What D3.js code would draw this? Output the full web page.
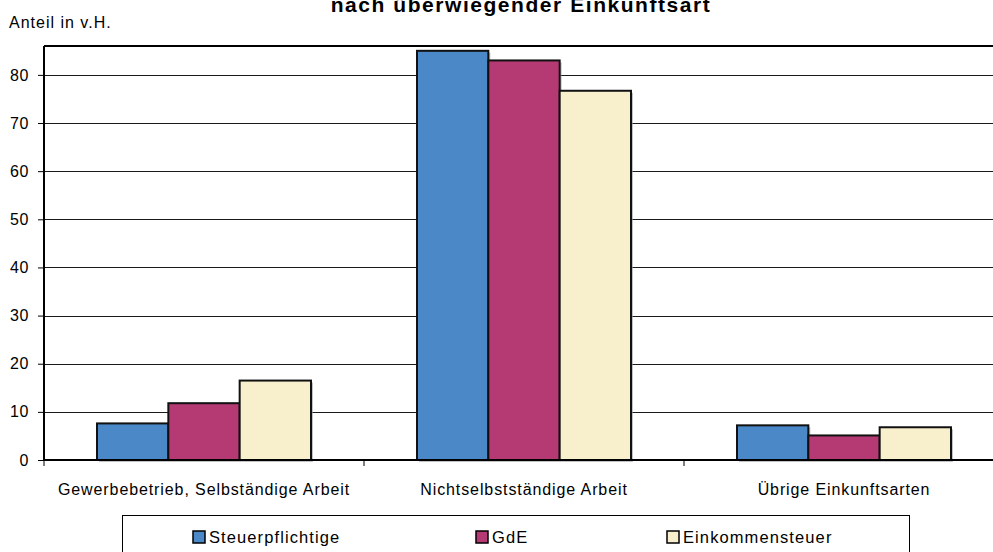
<!DOCTYPE html>
<html>
<head>
<meta charset="utf-8">
<script src="https://cdn.jsdelivr.net/npm/d3@7"></script>
<style>
  body { margin: 0; background: #fff; }
  svg { display: block; font-family: "Liberation Sans", Arial, sans-serif; }
</style>
</head>
<body>
<svg class="chart"></svg>
<script>
const categories = ["Gewerbebetrieb, Selbständige Arbeit", "Nichtselbstständige Arbeit", "Übrige Einkunftsarten"];
const seriesNames = ["Steuerpflichtige", "GdE", "Einkommensteuer"];
const steuerpflichtige = [7.6, 85.0, 7.2];
const gde = [11.8, 83.0, 5.1];
const einkommensteuer = [16.5, 76.7, 6.8];
const colors = ["#4a88c7", "#b53a74", "#f8f0cd"];
const yTicks = [0, 10, 20, 30, 40, 50, 60, 70, 80];

const values = [steuerpflichtige, gde, einkommensteuer];

const W = 993, H = 552;
const margin = {top: 46, right: -11, bottom: 92, left: 44};
const width = W - margin.left - margin.right;
const height = H - margin.top - margin.bottom;
const fontFamily = '"Liberation Sans", Arial, sans-serif';

const svg = d3.select('.chart')
  .attr('width', W)
  .attr('height', H);

const x = d3.scaleBand()
  .domain(categories)
  .range([0, width])
  .paddingInner(0)
  .paddingOuter(0);

const x1 = d3.scaleBand()
  .domain(seriesNames)
  .range([53, x.bandwidth() - 53]);

const y = d3.scaleLinear()
  .domain([0, 86])
  .range([height, 0]);

const chart = svg.append('g')
  .attr('transform', `translate(${margin.left}, ${margin.top})`);

// gridlines
chart.append('g')
  .selectAll('line')
  .data(yTicks.filter(d => d > 0))
  .enter()
.append('line')
  .attr('x1', 0)
  .attr('x2', width)
  .attr('y1', d => Math.round(y(d)) + 0.5)
  .attr('y2', d => Math.round(y(d)) + 0.5)
  .attr('stroke', '#1a1a1a')
  .attr('stroke-width', 1);

// top border
chart.append('line')
  .attr('x1', 0).attr('x2', width)
  .attr('y1', 0).attr('y2', 0)
  .attr('stroke', '#000')
  .attr('stroke-width', 2);

// bars
const rows = [];
categories.forEach((c, i) => {
  seriesNames.forEach((s, j) => {
    rows.push({cat: c, series: s, value: values[j][i], color: colors[j]});
  });
});

const bars = chart.selectAll('.bar')
  .data(rows)
  .enter();

// shadow
bars.append('rect')
  .attr('x', d => x(d.cat) + x1(d.series) + 2)
  .attr('y', d => y(d.value) + 2)
  .attr('width', x1.bandwidth())
  .attr('height', d => height - y(d.value))
  .attr('fill', '#9a9a9a')
  .attr('opacity', 0.6);

bars.append('rect')
  .attr('class', 'bar')
  .attr('x', d => x(d.cat) + x1(d.series))
  .attr('y', d => y(d.value))
  .attr('width', x1.bandwidth())
  .attr('height', d => height - y(d.value))
  .attr('fill', d => d.color)
  .attr('stroke', '#111')
  .attr('stroke-width', 2);

// y axis
const yAxis = d3.axisLeft(y)
  .tickValues(yTicks)
  .tickSize(6)
  .tickPadding(9)
  .tickFormat(d3.format('d'));

const gy = chart.append('g')
  .call(yAxis);
gy.select('.domain').attr('stroke', '#000').attr('stroke-width', 2).attr('d', `M0,0V${height}`);
gy.selectAll('.tick line').attr('stroke', '#000');
gy.selectAll('.tick text')
  .attr('font-size', 16)
  .attr('letter-spacing', 0.6)
  .attr('fill', '#000')
  .attr('font-family', fontFamily);

// x axis
const xAxis = d3.axisBottom(x)
  .tickSize(0)
  .tickPadding(24);

const gx = chart.append('g')
  .attr('transform', `translate(0, ${height})`)
  .call(xAxis);
gx.select('.domain').attr('stroke', '#000').attr('stroke-width', 2).attr('d', `M0,0H${width}`);
gx.selectAll('.tick text')
  .attr('font-size', 16)
  .attr('letter-spacing', 0.9)
  .attr('fill', '#000')
  .attr('font-family', fontFamily);

// category separators
chart.append('g')
  .selectAll('line')
  .data(categories.concat(['end']))
  .enter()
.append('line')
  .attr('x1', (d, i) => i * x.bandwidth())
  .attr('x2', (d, i) => i * x.bandwidth())
  .attr('y1', height)
  .attr('y2', height + 6)
  .attr('stroke', '#000');

// titles
svg.append('text')
  .attr('x', 521)
  .attr('y', 12)
  .attr('text-anchor', 'middle')
  .attr('font-size', 21)
  .attr('letter-spacing', 1.55)
  .attr('font-weight', 'bold')
  .text('nach überwiegender Einkunftsart');

svg.append('text')
  .attr('x', 9)
  .attr('y', 28)
  .attr('font-size', 16)
  .attr('letter-spacing', 1)
  .text('Anteil in v.H.');

// legend
const legend = svg.append('g');
legend.append('rect')
  .attr('x', 122.5)
  .attr('y', 515.5)
  .attr('width', 787)
  .attr('height', 50)
  .attr('fill', '#fff')
  .attr('stroke', '#000');

const legendX = [193, 476, 667];
const item = legend.selectAll('.item')
  .data(seriesNames)
  .enter()
.append('g')
  .attr('transform', (d, i) => `translate(${legendX[i]}, 531)`);

item.append('rect')
  .attr('width', 12)
  .attr('height', 12)
  .attr('fill', (d, i) => colors[i])
  .attr('stroke', '#000')
  .attr('stroke-width', 1.5);

item.append('text')
  .attr('x', 16)
  .attr('y', 12)
  .attr('font-size', 16.5)
  .attr('letter-spacing', 1.1)
  .text(d => d);
</script>
</body>
</html>
